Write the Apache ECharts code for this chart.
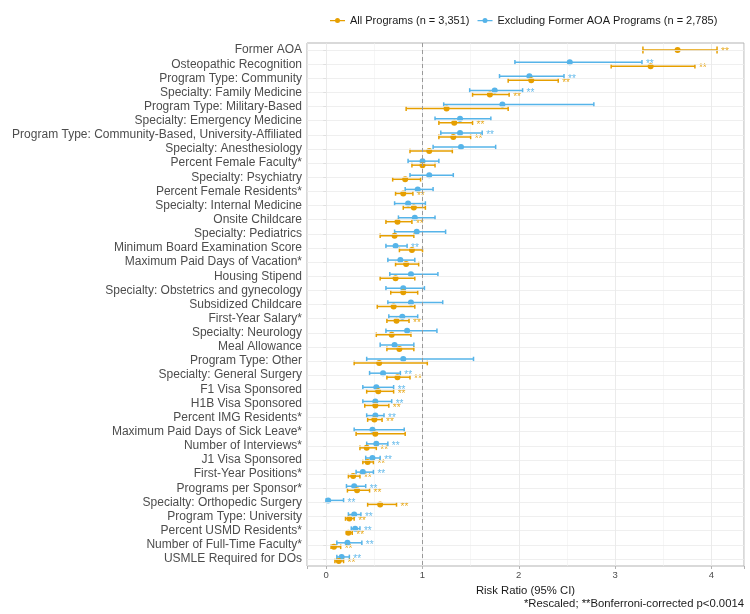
<!DOCTYPE html>
<html>
<head>
<meta charset="utf-8">
<script src="https://cdn.jsdelivr.net/npm/echarts@6/dist/echarts.min.js"></script>
<style>
  html, body { margin: 0; padding: 0; background: #fff; }
  #main { width: 750px; height: 614px; }
</style>
</head>
<body>
<div id="main"></div>
<script>
var categories = [
    'Former AOA',
    'Osteopathic Recognition',
    'Program Type: Community',
    'Specialty: Family Medicine',
    'Program Type: Military-Based',
    'Specialty: Emergency Medicine',
    'Program Type: Community-Based, University-Affiliated',
    'Specialty: Anesthesiology',
    'Percent Female Faculty*',
    'Specialty: Psychiatry',
    'Percent Female Residents*',
    'Specialty: Internal Medicine',
    'Onsite Childcare',
    'Specialty: Pediatrics',
    'Minimum Board Examination Score',
    'Maximum Paid Days of Vacation*',
    'Housing Stipend',
    'Specialty: Obstetrics and gynecology',
    'Subsidized Childcare',
    'First-Year Salary*',
    'Specialty: Neurology',
    'Meal Allowance',
    'Program Type: Other',
    'Specialty: General Surgery',
    'F1 Visa Sponsored',
    'H1B Visa Sponsored',
    'Percent IMG Residents*',
    'Maximum Paid Days of Sick Leave*',
    'Number of Interviews*',
    'J1 Visa Sponsored',
    'First-Year Positions*',
    'Programs per Sponsor*',
    'Specialty: Orthopedic Surgery',
    'Program Type: University',
    'Percent USMD Residents*',
    'Number of Full-Time Faculty*',
    'USMLE Required for DOs'
];

// All Programs (n = 3,351)
var allEst = [3.65, 3.37, 2.13, 1.70, 1.25, 1.33, 1.32, 1.07, 1.00, 0.82, 0.80, 0.91, 0.74, 0.71, 0.89, 0.83, 0.72, 0.80, 0.70, 0.73, 0.68, 0.76, 0.55, 0.74, 0.54, 0.51, 0.50, 0.51, 0.42, 0.43, 0.28, 0.32, 0.56, 0.24, 0.23, 0.08, 0.13];
var allLo  = [3.29, 2.96, 1.89, 1.52, 0.83, 1.17, 1.17, 0.87, 0.89, 0.69, 0.72, 0.80, 0.62, 0.56, 0.76, 0.72, 0.56, 0.67, 0.53, 0.63, 0.52, 0.63, 0.29, 0.63, 0.42, 0.40, 0.43, 0.31, 0.35, 0.38, 0.23, 0.22, 0.43, 0.20, 0.21, 0.05, 0.09];
var allHi  = [4.06, 3.83, 2.41, 1.90, 1.89, 1.52, 1.50, 1.31, 1.13, 0.98, 0.90, 1.03, 0.89, 0.91, 1.00, 0.96, 0.92, 0.95, 0.92, 0.86, 0.88, 0.91, 1.05, 0.87, 0.70, 0.65, 0.58, 0.82, 0.52, 0.49, 0.35, 0.45, 0.73, 0.29, 0.27, 0.15, 0.18];
var allSig = [1, 1, 1, 1, 0, 1, 1, 0, 0, 0, 1, 0, 1, 0, 0, 0, 0, 0, 0, 1, 0, 0, 0, 1, 1, 1, 1, 0, 1, 1, 1, 1, 1, 1, 1, 1, 1];

// Excluding Former AOA Programs (n = 2,785)
var exEst = [null, 2.53, 2.11, 1.75, 1.83, 1.39, 1.39, 1.40, 1.00, 1.07, 0.95, 0.85, 0.92, 0.94, 0.72, 0.77, 0.88, 0.80, 0.88, 0.79, 0.84, 0.71, 0.80, 0.59, 0.52, 0.51, 0.51, 0.48, 0.52, 0.48, 0.38, 0.29, 0.02, 0.29, 0.30, 0.22, 0.16];
var exLo  = [null, 1.96, 1.80, 1.49, 1.22, 1.13, 1.19, 1.11, 0.85, 0.87, 0.82, 0.71, 0.75, 0.71, 0.62, 0.64, 0.66, 0.62, 0.64, 0.65, 0.62, 0.56, 0.42, 0.45, 0.38, 0.38, 0.42, 0.29, 0.42, 0.41, 0.31, 0.21, 0.00, 0.23, 0.26, 0.11, 0.11];
var exHi  = [null, 3.28, 2.47, 2.04, 2.78, 1.71, 1.62, 1.76, 1.17, 1.32, 1.11, 1.03, 1.13, 1.24, 0.84, 0.92, 1.16, 1.02, 1.21, 0.95, 1.15, 0.91, 1.53, 0.77, 0.70, 0.68, 0.60, 0.81, 0.64, 0.56, 0.49, 0.41, 0.18, 0.36, 0.35, 0.37, 0.24];
var exSig = [0, 1, 1, 1, 0, 0, 1, 0, 0, 0, 0, 0, 0, 0, 1, 0, 0, 0, 0, 0, 0, 0, 0, 1, 1, 1, 1, 0, 1, 1, 1, 1, 1, 1, 1, 1, 1];

var xTicks = [0, 1, 2, 3, 4];

var ORANGE = '#E69F00';
var BLUE = '#56B4E9';
var FONT = '"Liberation Sans", Arial, sans-serif';

var myChart = echarts.init(document.getElementById('main'));

function buildData(lo, est, hi, sig) {
    var out = [];
    for (var i = 0; i < categories.length; i++) {
        if (est[i] == null) continue;
        out.push([i, lo[i], est[i], hi[i], sig[i]]);
    }
    return out;
}

// error bar + point, dodged up (blue) or down (orange) inside the row
function renderBar(color, dodge, other) {
    return function (params, api) {
        var i = api.value(0);
        var lo = api.coord([api.value(1), i]);
        var est = api.coord([api.value(2), i]);
        var hi = api.coord([api.value(3), i]);
        var alone = other[i] == null;
        var y = est[1] + (alone ? 0 : dodge);
        var h = alone ? 3.5 : 2.3;
        var st = { stroke: color, lineWidth: 1.5 };
        var kids = [
            { type: 'line', shape: { x1: lo[0], y1: y, x2: hi[0], y2: y }, style: st },
            { type: 'line', shape: { x1: lo[0], y1: y - h, x2: lo[0], y2: y + h }, style: st },
            { type: 'line', shape: { x1: hi[0], y1: y - h, x2: hi[0], y2: y + h }, style: st },
            { type: 'circle', shape: { cx: est[0], cy: y, r: 3 }, style: { fill: color } }
        ];
        if (api.value(4)) {
            kids.push({
                type: 'text', x: hi[0] + 4, y: y + 2.5,
                style: { text: '**', fill: color, opacity: 0.9, font: '10px ' + FONT, verticalAlign: 'middle' }
            });
        }
        return { type: 'group', children: kids };
    };
}

function draw() {
    var gridLines = categories.map(function (c, i) {
        return { yAxis: i, lineStyle: { color: '#ebebeb', width: 0.8, type: 'solid' } };
    });
    gridLines.push({ xAxis: 1, lineStyle: { color: '#9a9a9a', width: 1, type: [4, 3] } });

    var option = {
        animation: false,
        textStyle: { fontFamily: FONT },
        legend: {
            data: ['All Programs (n = 3,351)', 'Excluding Former AOA Programs (n = 2,785)'],
            top: 10,
            left: 325,
            itemWidth: 15,
            itemHeight: 8,
            itemGap: 8,
            icon: 'path://M0 9h24v2H0zM12 6a4 4 0 1 1 0 8a4 4 0 1 1 0-8z',
            textStyle: { fontSize: 11, color: '#1a1a1a' }
        },
        grid: {
            left: 307, right: 6, top: 43, bottom: 48,
            show: true, borderColor: '#b3b3b3', borderWidth: 1
        },
        xAxis: {
            type: 'value',
            min: -0.2,
            max: 4.34,
            splitNumber: 5,
            name: 'Risk Ratio (95% CI)',
            nameLocation: 'middle',
            nameGap: 13,
            nameTextStyle: { fontSize: 11.3, color: '#1a1a1a' },
            axisLine: { show: false },
            axisTick: { show: true, length: 3, lineStyle: { color: '#b3b3b3' } },
            axisLabel: {
                fontSize: 9.5, color: '#4d4d4d', margin: 4,
                formatter: function (v) { return xTicks.indexOf(v) >= 0 ? String(v) : ''; }
            },
            splitLine: { lineStyle: { color: '#e6e6e6', width: 0.8 } },
            minorTick: { show: false, splitNumber: 2 },
            minorSplitLine: { show: true, lineStyle: { color: '#f0f0f0', width: 0.6 } }
        },
        yAxis: {
            type: 'category',
            data: categories,
            inverse: true,
            axisLine: { show: false },
            axisTick: { show: true, alignWithLabel: true, length: 3, lineStyle: { color: '#b3b3b3' } },
            axisLabel: { interval: 0, fontSize: 12, color: '#4d4d4d', margin: 5 },
            splitLine: { show: false }
        },
        graphic: [{
            type: 'text',
            right: 6,
            top: 598,
            style: { text: '*Rescaled; **Bonferroni-corrected p<0.0014', font: '11.3px ' + FONT, fill: '#1a1a1a' }
        }],
        series: [
            {
                type: 'line',
                data: [],
                silent: true,
                z: 1,
                markLine: { silent: true, symbol: 'none', label: { show: false }, data: gridLines }
            },
            {
                name: 'Excluding Former AOA Programs (n = 2,785)',
                type: 'custom',
                z: 3,
                itemStyle: { color: BLUE },
                encode: { x: [1, 2, 3], y: 0 },
                renderItem: renderBar(BLUE, -2, allEst),
                data: buildData(exLo, exEst, exHi, exSig)
            },
            {
                name: 'All Programs (n = 3,351)',
                type: 'custom',
                z: 4,
                itemStyle: { color: ORANGE },
                encode: { x: [1, 2, 3], y: 0 },
                renderItem: renderBar(ORANGE, 2, exEst),
                data: buildData(allLo, allEst, allHi, allSig)
            }
        ]
    };

    myChart.setOption(option);
}

draw();
</script>
</body>
</html>
